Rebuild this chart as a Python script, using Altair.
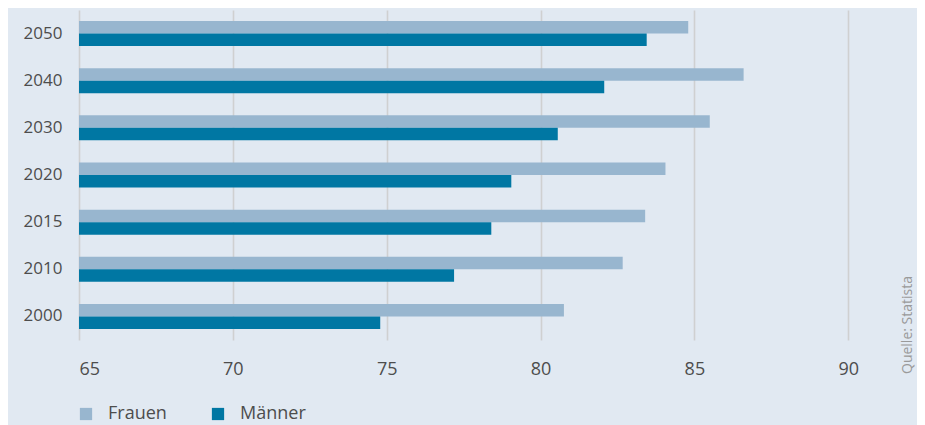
import altair as alt
import pandas as pd

years = ["2050", "2040", "2030", "2020", "2015", "2010", "2000"]
frauen = [84.8, 86.6, 85.5, 84.06, 83.4, 82.67, 80.76]
maenner = [83.45, 82.07, 80.56, 79.05, 78.4, 77.19, 74.79]
series = ["Frauen", "Männer"]
colors = ["#98b6cf", "#0077a3"]
x_ticks = [65, 70, 75, 80, 85, 90]
source_note = ["Quelle: Statista"]

rows = []
for y, f, m in zip(years, frauen, maenner):
    rows.append({"Jahr": y, "Geschlecht": series[0], "Wert": f})
    rows.append({"Jahr": y, "Geschlecht": series[1], "Wert": m})
df = pd.DataFrame(rows)

FONT = "Open Sans"
LABEL = "#4d4d4d"

bars = alt.Chart(df).mark_bar().encode(
    x=alt.X(
        "Wert:Q",
        scale=alt.Scale(domain=[65, 91], zero=False, nice=False),
        axis=alt.Axis(
            values=x_ticks, title=None, ticks=False, domain=False, grid=True,
            gridColor="#cfd0d1", gridWidth=1.6, labelFont=FONT, labelFontSize=18,
            labelColor=LABEL, labelPadding=20,
        ),
    ),
    x2=alt.datum(65),
    y=alt.Y(
        "Jahr:N", sort=years,
        scale=alt.Scale(paddingInner=0.47, paddingOuter=0.235),
        axis=alt.Axis(
            title=None, ticks=False, domain=False, grid=False, labelFont=FONT,
            labelFontSize=17, labelColor=LABEL, labelPadding=17,
        ),
    ),
    yOffset=alt.YOffset("Geschlecht:N", sort=series,
                        scale=alt.Scale(paddingInner=0, paddingOuter=0)),
    color=alt.Color(
        "Geschlecht:N", sort=series,
        scale=alt.Scale(domain=series, range=colors),
        legend=alt.Legend(
            title=None, orient="none", legendX=-2, legendY=395, direction="horizontal",
            symbolType="square", symbolSize=150, symbolStrokeWidth=0,
            labelFont=FONT, labelFontSize=18, labelColor=LABEL, labelOffset=13,
            columnPadding=42, padding=0,
        ),
    ),
)

note = alt.Chart(pd.DataFrame({"t": source_note})).mark_text(
    angle=270, align="center", baseline="middle", font=FONT, fontSize=14,
    color="#9a9a9a",
).encode(text="t:N", x=alt.value(829), y=alt.value(315))

chart = alt.layer(bars, note).properties(
    width=800, height=330,
    autosize=alt.AutoSizeParams(type="none"),
    padding={"left": 71, "top": 2, "right": 38, "bottom": 93},
    background="#e1e9f2",
).configure_view(stroke=None)

chart.save("out.html", embed_options={"renderer": "svg", "actions": False})
